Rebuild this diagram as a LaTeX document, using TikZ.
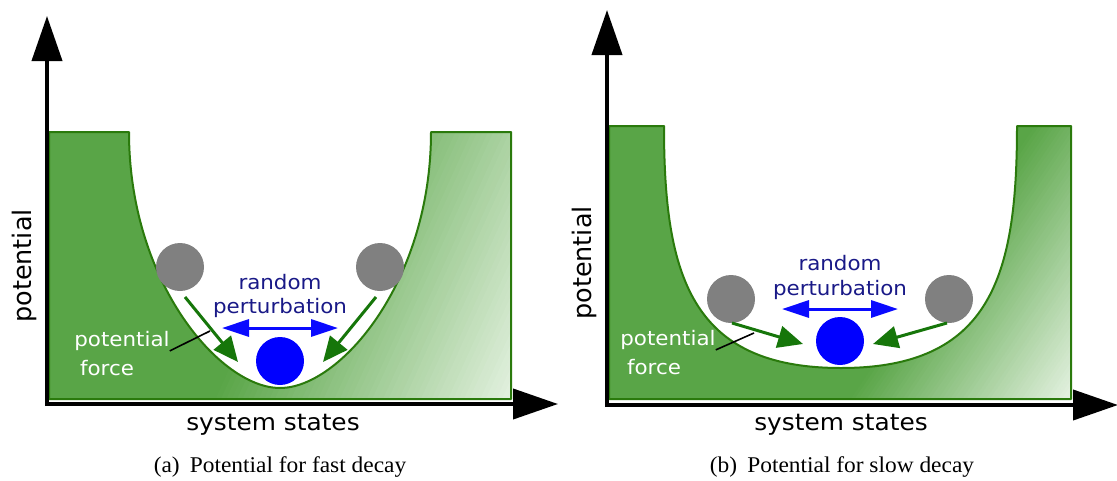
\documentclass[tikz,border=0pt]{standalone}
\usepackage{fontspec}
\setmainfont[FakeStretch=1.04]{Liberation Serif}
\newfontfamily\dvs[FakeStretch=1.07]{DejaVu Sans}
\newfontfamily\dvsn{DejaVu Sans}
\usetikzlibrary{arrows.meta}
\definecolor{gA}{RGB}{89,165,71}
\definecolor{gW}{RGB}{240,248,238}
\definecolor{gLine}{RGB}{42,122,12}
\definecolor{gArr}{RGB}{22,118,10}
\definecolor{txtblue}{RGB}{25,25,135}
\definecolor{ballgray}{RGB}{128,128,128}
\definecolor{ballblue}{RGB}{0,0,255}
\definecolor{arrblue}{RGB}{10,10,255}
\begin{document}
\begin{tikzpicture}[x=1pt,y=-1pt,
  axisline/.style={line width=4pt,-{Triangle[length=45pt,width=30pt]}},
  outline/.style={draw=gLine,line width=2pt,line join=round},
  ball/.style={circle,minimum size=48pt,inner sep=0pt,draw=none},
  forcearrow/.style={draw=gArr,line width=3pt,-{Triangle[length=25pt,width=22pt]}},
  pertarrow/.style={draw=arrblue,line width=3pt,{Triangle[length=27pt,width=17pt]}-{Triangle[length=27pt,width=17pt]}},
  pertlbl/.style={font=\dvs\fontsize{20pt}{24pt}\selectfont,text=txtblue,inner sep=0pt},
  whitelbl/.style={font=\dvs\fontsize{20pt}{24pt}\selectfont,text=white,inner sep=0pt},
  xaxislbl/.style={font=\dvs\fontsize{23.2pt}{27pt}\selectfont,inner sep=0pt},
  yaxislbl/.style={font=\dvsn\fontsize{25.5pt}{29pt}\selectfont,inner sep=0pt,rotate=90},
  leader/.style={draw=black,line width=1.6pt},
  caption/.style={font=\fontsize{22.5pt}{26pt}\selectfont,inner sep=0pt}
]
\useasboundingbox (0,0) rectangle (1117,480);

% ================= panel (a) =================
\begin{scope}
  \clip (49,132) -- (129,132) .. controls (129,282) and (220,388) .. (280,388)
        .. controls (340,388) and (431,282) .. (431,132) -- (511,132) -- (511,399) -- (49,399) -- cycle;
  \fill[gA] (0,0) rectangle (1117,480);
  \begin{scope}[shift={(215,400)},rotate=-24.4]
    \foreach \i in {0,...,59}{
      \pgfmathtruncatemacro\pc{100-(\i+0.5)*100/60}
      \fill[gA!\pc!gW] ({\i*4.92},-700) rectangle ({(\i+1)*4.92+0.6},700);
    }
    \fill[gW] (295,-700) rectangle (900,700);
  \end{scope}
\end{scope}
\path[outline] (49,132) -- (129,132) .. controls (129,282) and (220,388) .. (280,388)
        .. controls (340,388) and (431,282) .. (431,132) -- (511,132) -- (511,399) -- (49,399) -- cycle;

\coordinate (Oa) at (47,404);
\coordinate (Ya) at (47,16);
\coordinate (Xa) at (558,404);
\draw[axisline] (47,406) -- (Ya);
\draw[axisline] (45,404) -- (Xa);

\node[ball,fill=ballgray] (ga1) at (180,267) {};
\node[ball,fill=ballgray] (ga2) at (380,267) {};
\node[ball,fill=ballblue] (ba) at (280,361) {};

\coordinate (fa1s) at (185,297);
\coordinate (fa1e) at (238,362);
\coordinate (fa2s) at (376,297);
\coordinate (fa2e) at (323,362);
\draw[forcearrow] (fa1s) -- (fa1e);
\draw[forcearrow] (fa2s) -- (fa2e);

\coordinate (pa1) at (222,328);
\coordinate (pa2) at (338,328);
\draw[pertarrow] (pa1) -- (pa2);

\node[pertlbl] (ra) at (280,282) {random};
\node[pertlbl] (pba) at (280,308) {perturbation};

\node[whitelbl] (pfa) at (122,341) {potential};
\node[whitelbl] (ffa) at (107,368) {force};
\coordinate (la) at (210,331);
\draw[leader] (pfa.south east) -- (la);

\node[yaxislbl] (yla) at (24,266) {potential};
\node[xaxislbl] (xla) at (273,425) {system states};
\node[caption] (capa) at (280,467) {(a)\hspace{0.45em}Potential for fast decay};

% ================= panel (b) =================
\begin{scope}
  \clip (609,126) -- (664,126) .. controls (664,276) and (691,368) .. (841,368)
        .. controls (991,368) and (1017,276) .. (1017,126) -- (1071,126) -- (1071,399) -- (609,399) -- cycle;
  \fill[gA] (0,0) rectangle (1117,480);
  \begin{scope}[shift={(850,400)},rotate=-34]
    \foreach \i in {0,...,59}{
      \pgfmathtruncatemacro\pc{100-(\i+0.5)*100/60}
      \fill[gA!\pc!gW] ({\i*3.3},-700) rectangle ({(\i+1)*3.3+0.6},700);
    }
    \fill[gW] (198,-700) rectangle (900,700);
  \end{scope}
\end{scope}
\path[outline] (609,126) -- (664,126) .. controls (664,276) and (691,368) .. (841,368)
        .. controls (991,368) and (1017,276) .. (1017,126) -- (1071,126) -- (1071,399) -- (609,399) -- cycle;

\coordinate (Ob) at (607,405);
\coordinate (Yb) at (607,10);
\coordinate (Xb) at (1118,405);
\draw[axisline] (607,407) -- (Yb);
\draw[axisline] (605,405) -- (Xb);

\node[ball,fill=ballgray] (gb1) at (731,299) {};
\node[ball,fill=ballgray] (gb2) at (949,299) {};
\node[ball,fill=ballblue] (bb) at (840,341) {};

\coordinate (fb1s) at (732,323);
\coordinate (fb1e) at (803,344);
\coordinate (fb2s) at (947,323);
\coordinate (fb2e) at (873,344);
\draw[forcearrow] (fb1s) -- (fb1e);
\draw[forcearrow] (fb2s) -- (fb2e);

\coordinate (pb1) at (782,309);
\coordinate (pb2) at (898,309);
\draw[pertarrow] (pb1) -- (pb2);

\node[pertlbl] (rb) at (840,263) {random};
\node[pertlbl] (pbb) at (840,290) {perturbation};

\node[whitelbl] (pfb) at (668,340) {potential};
\node[whitelbl] (ffb) at (654,367) {force};
\coordinate (lb) at (754,333);
\draw[leader] (pfb.south east) -- (lb);

\node[yaxislbl] (ylb) at (584,263) {potential};
\node[xaxislbl] (xlb) at (841,425) {system states};
\node[caption] (capb) at (842,467) {(b)\hspace{0.45em}Potential for slow decay};
\end{tikzpicture}
\end{document}
